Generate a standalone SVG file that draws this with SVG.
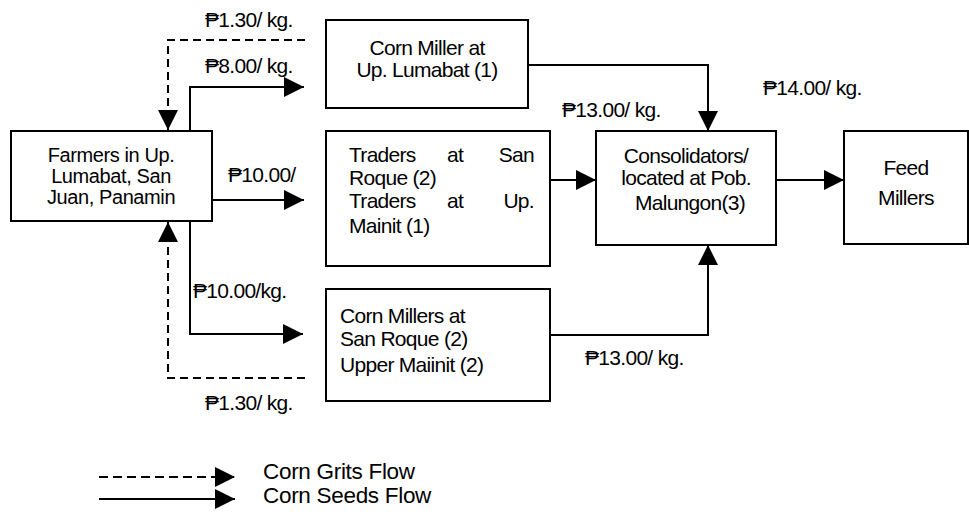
<svg xmlns="http://www.w3.org/2000/svg" width="969" height="516" viewBox="0 0 969 516">
<style>
text{font-family:"Liberation Sans","DejaVu Sans",Arial,sans-serif;font-size:21px;letter-spacing:-0.7px;fill:#000}
.box{fill:#fff;stroke:#000;stroke-width:2}
.c{text-anchor:middle}
.e{text-anchor:end}
.f{font-size:20px;letter-spacing:-0.4px}
.ln{fill:none;stroke:#000;stroke-width:2}
.d{stroke-dasharray:8,5}
.lg{font-size:22.5px;letter-spacing:-0.3px}
</style>
<defs>
<marker id="ah" markerWidth="20" markerHeight="20" refX="20" refY="10" orient="auto" markerUnits="userSpaceOnUse">
<path d="M0,0 L20,10 L0,20 Z" fill="#000"/>
</marker>
</defs>
<rect width="969" height="516" fill="#fff"/>
<g id="connectors">
<path class="ln d" d="M305,40 H168 V130" marker-end="url(#ah)"/>
<path class="ln" d="M190,131 V87 H304" marker-end="url(#ah)"/>
<path class="ln" d="M212,200 H304" marker-end="url(#ah)"/>
<path class="ln" d="M190,221 V334 H303" marker-end="url(#ah)"/>
<path class="ln d" d="M305,378 H168 V222" marker-end="url(#ah)"/>
<path class="ln" d="M528,65 H708 V131" marker-end="url(#ah)"/>
<path class="ln" d="M550,335 H708 V245" marker-end="url(#ah)"/>
<path class="ln" d="M550,180 H596" marker-end="url(#ah)"/>
<path class="ln" d="M776,180 H844" marker-end="url(#ah)"/>
<path class="ln d" d="M99,477 H235" marker-end="url(#ah)" style="stroke-dasharray:9,5"/>
<path class="ln" d="M99,499 H235" marker-end="url(#ah)"/>
</g>
<g id="labels">
<text x="205" y="27">₱1.30/ kg.</text>
<text x="205" y="73">₱8.00/ kg.</text>
<text x="228" y="182">₱10.00/</text>
<text x="193" y="298">₱10.00/kg.</text>
<text x="205" y="410">₱1.30/ kg.</text>
<text x="562" y="117">₱13.00/ kg.</text>
<text x="763" y="95">₱14.00/ kg.</text>
<text x="585" y="365">₱13.00/ kg.</text>
<text class="lg" x="263" y="479">Corn Grits Flow</text>
<text class="lg" x="263" y="503">Corn Seeds Flow</text>
</g>
<g id="farmers">
<rect class="box" x="11" y="131" width="201" height="90"/>
<text class="c f" x="111" y="162">Farmers in Up.</text>
<text class="c f" x="111" y="183">Lumabat, San</text>
<text class="c f" x="111" y="204">Juan, Panamin</text>
</g>
<g id="cornMillerLumabat">
<rect class="box" x="326" y="20" width="202" height="88"/>
<text class="c" x="427" y="55">Corn Miller at</text>
<text class="c" x="427" y="77">Up. Lumabat (1)</text>
</g>
<g id="traders">
<rect class="box" x="326" y="131" width="224" height="135"/>
<text x="349" y="162">Traders</text><text x="447" y="162">at</text><text class="e" x="534" y="162">San</text>
<text x="349" y="185">Roque (2)</text>
<text x="349" y="208">Traders</text><text x="447" y="208">at</text><text class="e" x="534" y="208">Up.</text>
<text x="349" y="233">Mainit (1)</text>
</g>
<g id="cornMillersSanRoque">
<rect class="box" x="326" y="289" width="224" height="112"/>
<text x="340" y="323">Corn Millers at</text>
<text x="340" y="346">San Roque (2)</text>
<text x="340" y="372">Upper Maiinit (2)</text>
</g>
<g id="consolidators">
<rect class="box" x="596" y="131" width="180" height="114"/>
<text class="c" x="686" y="163">Consolidators/</text>
<text class="c" x="686" y="185">located at  Pob.</text>
<text class="c" x="690" y="210">Malungon(3)</text>
</g>
<g id="feedMillers">
<rect class="box" x="844" y="131" width="124" height="113"/>
<text class="c" x="906" y="175">Feed</text>
<text class="c" x="906" y="205">Millers</text>
</g>
</svg>
